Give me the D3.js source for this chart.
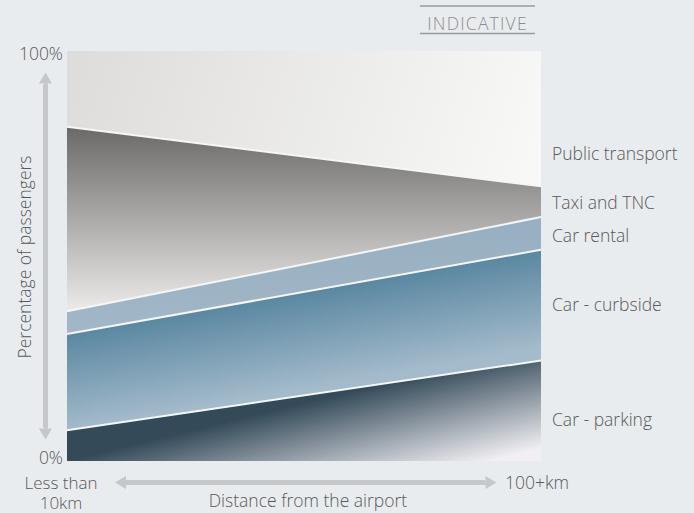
<!DOCTYPE html>
<html>
<head>
<meta charset="utf-8">
<script src="https://cdn.jsdelivr.net/npm/d3@7"></script>
<style>
  html, body { margin: 0; padding: 0; background: #e9ecef; }
  svg { display: block; }
  text { font-family: "Open Sans", sans-serif; font-weight: 300; fill: #585858; }
</style>
</head>
<body>
<svg id="chart" width="694" height="513"></svg>
<script>
// Share of passengers by access mode, from near to far from the airport
const distances = ["Less than 10km", "100+km"];
const seriesNames = ["Car - parking", "Car - curbside", "Car rental", "Taxi and TNC", "Public transport"];
const parking = [7.5, 24.5];
const curbside = [23.5, 27];
const rental = [5.5, 8];
const taxi = [45, 7.5];
const publicTransport = [18.5, 33];
const yTicks = [0, 100];

const svg = d3.select("#chart");
const plot = { left: 67, right: 541, top: 51, bottom: 461 };
const FS = "17.5px";

const x = d3.scalePoint().domain(distances).range([plot.left, plot.right]);
const y = d3.scaleLinear().domain([0, 100]).range([plot.bottom, plot.top]);

const table = distances.map((d, i) => ({
  distance: d,
  "Car - parking": parking[i],
  "Car - curbside": curbside[i],
  "Car rental": rental[i],
  "Taxi and TNC": taxi[i],
  "Public transport": publicTransport[i]
}));
const stacked = d3.stack().keys(seriesNames)(table);

const area = d3.area()
  .x(d => x(d.data.distance))
  .y0(d => y(d[0]))
  .y1(d => y(d[1]));
const topLine = d3.line()
  .x(d => x(d.data.distance))
  .y(d => y(d[1]));

// gradient fills
const defs = svg.append("defs");
function grad(id, x1, y1, x2, y2, stops) {
  const g = defs.append("linearGradient").attr("id", id)
    .attr("gradientUnits", "userSpaceOnUse")
    .attr("x1", x1).attr("y1", y1).attr("x2", x2).attr("y2", y2);
  stops.forEach(s => g.append("stop").attr("offset", s[0]).attr("stop-color", s[1]));
}
const sC = stacked[1], sR = stacked[2], sT = stacked[3];
const xl = x(distances[0]), xr = x(distances[1]);

// parking: dark at upper left, fading towards the lower right corner
grad("g-parking", 90, y(0) - 6, 114, y(0) + 92,
  [[0, "#344a59"], [1, "#f1eff3"]]);
// curbside: darker along its upper edge, lighter towards the lower edge
{
  const x0 = xl, y0 = y(sC[0][1]);
  const dx = xr - xl, dy = y(sC[1][1]) - y0;
  const len = Math.hypot(dx, dy);
  const nx = -dy / len, ny = dx / len;
  const thick = y(sC[0][0]) - y0;
  grad("g-curb", x0, y0, x0 + nx * thick, y0 + ny * thick,
    [[0, "#5a87a1"], [1, "#a4bbcb"]]);
}
grad("g-rental", 0, y(sR[1][1]), 0, y(sR[0][0]),
  [[0, "#97afc1"], [1, "#a2b7c7"]]);
grad("g-taxi", 0, y(sT[0][1]), 0, y(sT[0][0]),
  [[0, "#6a6968"], [1, "#ecebe9"]]);
grad("g-public", xl, y(100), xr, y(sT[1][1]) + 10,
  [[0, "#dddcda"], [1, "#f9f9f8"]]);

const fills = ["url(#g-parking)", "url(#g-curb)", "url(#g-rental)", "url(#g-taxi)", "url(#g-public)"];

svg.append("g").selectAll("path")
  .data(stacked)
  .join("path")
  .attr("d", area)
  .attr("fill", (d, i) => fills[i]);

// separators between the bands
svg.append("g").selectAll("path")
  .data(stacked.slice(0, 4))
  .join("path")
  .attr("d", topLine)
  .attr("fill", "none")
  .attr("stroke", "#f4f6f8")
  .attr("stroke-width", 2);

// y tick labels
const yAxis = svg.append("g")
  .attr("transform", `translate(${plot.left - 4},0)`)
  .call(d3.axisLeft(y).tickValues(yTicks).tickSize(0).tickPadding(0).tickFormat(d => d + "%"));
yAxis.select(".domain").remove();
yAxis.selectAll("text")
  .attr("dy", d => d === 100 ? "0.5em" : "0.15em")
  .style("font-family", '"Open Sans", sans-serif')
  .style("font-weight", 300)
  .style("font-size", FS)
  .style("fill", "#585858")
  .attr("text-anchor", "end");

// axis arrows
const arrowColor = "#c5c7c9";
function arrow(x1, y1, x2, y2) {
  const g = svg.append("g");
  const ang = Math.atan2(y2 - y1, x2 - x1);
  const head = 11, half = 6.5;
  const ux = Math.cos(ang), uy = Math.sin(ang);
  g.append("line")
    .attr("x1", x1 + ux * head).attr("y1", y1 + uy * head)
    .attr("x2", x2 - ux * head).attr("y2", y2 - uy * head)
    .attr("stroke", arrowColor).attr("stroke-width", 5);
  [[x1, y1, -1], [x2, y2, 1]].forEach(([px, py, s]) => {
    const bx = px - s * ux * head, by = py - s * uy * head;
    g.append("polygon")
      .attr("points", [
        [px, py],
        [bx - uy * half, by + ux * half],
        [bx + uy * half, by - ux * half]
      ].map(p => p.join(",")).join(" "))
      .attr("fill", arrowColor);
  });
}
arrow(45.5, 72.5, 45.5, 439.5);
arrow(115, 482.5, 496.5, 482.5);

svg.append("text")
  .attr("transform", "translate(31,257) rotate(-90)")
  .attr("text-anchor", "middle")
  .style("font-size", FS)
  .text("Percentage of passengers");

// x end labels
const nearLabel = svg.append("text").attr("x", 61).attr("y", 489)
  .attr("text-anchor", "middle").style("font-size", "17px");
nearLabel.append("tspan").attr("x", 61).text("Less than");
nearLabel.append("tspan").attr("x", 61).attr("dy", 20).text("10km");
svg.append("text").attr("x", 505).attr("y", 489).attr("text-anchor", "start")
  .style("font-size", FS).text(distances[1]);
svg.append("text").attr("x", 308).attr("y", 507).attr("text-anchor", "middle")
  .style("font-size", FS).text("Distance from the airport");

// series labels on the right
const labelY = [426, 311, 242, 209, 160];
svg.append("g").selectAll("text")
  .data(seriesNames)
  .join("text")
  .attr("x", 552)
  .attr("y", (d, i) => labelY[i])
  .style("font-size", FS)
  .text(d => d);

// indicative stamp
const stamp = svg.append("g");
stamp.append("line").attr("x1", 420).attr("x2", 535).attr("y1", 6).attr("y2", 6)
  .attr("stroke", "#9a9a9a").attr("stroke-width", 1.3);
stamp.append("line").attr("x1", 420).attr("x2", 535).attr("y1", 33.5).attr("y2", 33.5)
  .attr("stroke", "#9a9a9a").attr("stroke-width", 1.3);
stamp.append("text").attr("x", 477.5).attr("y", 29.5).attr("text-anchor", "middle")
  .style("font-size", "17.5px").style("letter-spacing", "1.2px").style("fill", "#8c8c8c")
  .text("INDICATIVE");
</script>
</body>
</html>
